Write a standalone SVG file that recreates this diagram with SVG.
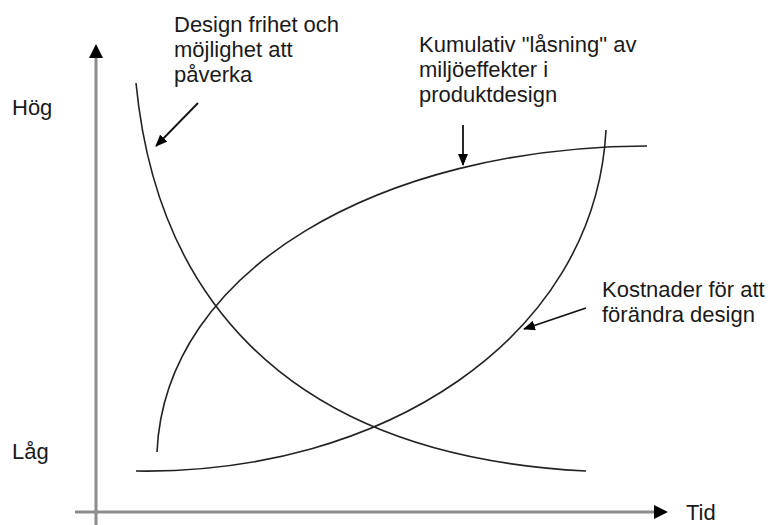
<svg xmlns="http://www.w3.org/2000/svg" width="770" height="525" viewBox="0 0 770 525">
  <defs>
    <style>
      .label { font-family: "Liberation Sans", Arial, sans-serif; font-size: 22px; fill: #1a1a1a; }
      .axis { stroke: #8c8c8c; stroke-width: 3; fill: none; }
      .curve { stroke: #222; stroke-width: 1.6; fill: none; }
      .pointer { stroke: #111; stroke-width: 1.8; fill: none; }
      .head { fill: #000; }
    </style>
    <marker id="tip" viewBox="0 0 12 10" refX="11" refY="5" markerWidth="12" markerHeight="10" markerUnits="userSpaceOnUse" orient="auto">
      <path d="M0,0 L12,5 L0,10 Z" class="head"/>
    </marker>
  </defs>

  <!-- axes -->
  <g id="axes">
    <line class="axis" x1="96" y1="525" x2="96" y2="56"/>
    <path class="head" d="M96,44 L103,58 L89,58 Z"/>
    <line class="axis" x1="75" y1="512" x2="655" y2="512"/>
    <path class="head" d="M668,512 L654,505 L654,519 Z"/>
  </g>

  <!-- axis labels -->
  <g id="label-hog"><text class="label" x="12" y="115">Hög</text></g>
  <g id="label-lag"><text class="label" x="12" y="459">Låg</text></g>
  <g id="label-tid"><text class="label" x="686" y="520">Tid</text></g>

  <!-- curves -->
  <g id="curve-design-freedom">
    <path class="curve" d="M136,83 C155,280 270,455 586,471"/>
  </g>
  <g id="curve-lock-in">
    <path class="curve" d="M157,452 C165,270 380,147 647,146"/>
  </g>
  <g id="curve-change-cost">
    <path class="curve" d="M136,471 C380,475 595,340 606,130"/>
  </g>

  <!-- annotations -->
  <g id="note-design">
    <text class="label" x="174" y="32">Design frihet och</text>
    <text class="label" x="174" y="57">möjlighet att</text>
    <text class="label" x="174" y="82">påverka</text>
  </g>
  <g id="note-lock-in">
    <text class="label" x="419" y="52">Kumulativ "låsning" av</text>
    <text class="label" x="419" y="77">miljöeffekter i</text>
    <text class="label" x="419" y="102">produktdesign</text>
  </g>
  <g id="note-cost">
    <text class="label" x="602" y="297">Kostnader för att</text>
    <text class="label" x="602" y="322">förändra design</text>
  </g>

  <!-- pointer arrows -->
  <g id="connectors">
    <line class="pointer" x1="198" y1="103" x2="156" y2="146" marker-end="url(#tip)"/>
    <line class="pointer" x1="463" y1="125" x2="463" y2="165" marker-end="url(#tip)"/>
    <line class="pointer" x1="586" y1="308" x2="524" y2="329" marker-end="url(#tip)"/>
  </g>
</svg>
